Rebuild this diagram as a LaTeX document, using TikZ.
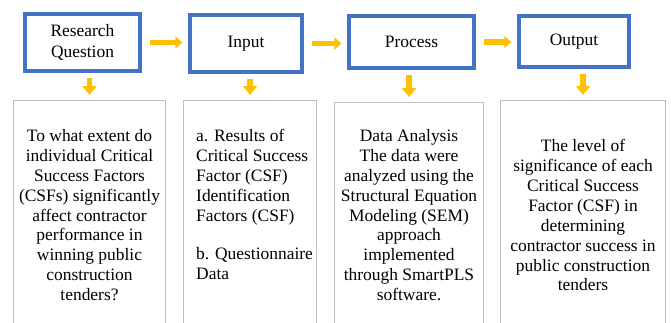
\documentclass[tikz,border=0pt]{standalone}
\usepackage{fontspec}
\setmainfont{Liberation Serif}
\usetikzlibrary{arrows.meta,positioning}
\definecolor{stageblue}{HTML}{4472C4}
\definecolor{flowyellow}{HTML}{FFC000}
\definecolor{panelgray}{HTML}{BFBFBF}

\begin{document}
\begin{tikzpicture}[x=1bp, y=-1bp,
    stage/.style={draw=stageblue, line width=3.2bp, align=center, inner sep=0pt,
      font=\fontsize{17.5}{21}\selectfont},
    panel/.style={draw=panelgray, line width=1bp, anchor=north west, inner sep=0pt},
    body/.style={inner sep=0pt, font=\fontsize{17.5}{20}\selectfont},
    flow/.style={draw=flowyellow, line width=5.5bp, -{Triangle[length=7bp, width=12bp]},
      shorten <=8bp, shorten >=6bp},
    drop/.style={draw=flowyellow, line width=5.5bp, -{Triangle[length=9bp, width=14bp]},
      shorten <=5bp, shorten >=5bp}
  ]
    \useasboundingbox (0,0) rectangle (671,322);
    \clip (0,0) rectangle (671,322);

    % stages along the top
    \node[stage, minimum width=115bp, minimum height=57bp] (rq) at (82.5,42.5) {Research\\Question};
    \node[stage, minimum width=112bp, minimum height=57bp] (inp) at (246,43.5) {Input};
    \node[stage, minimum width=125bp, minimum height=52bp] (proc) at (411.5,42) {Process};
    \node[stage, minimum width=110bp, minimum height=51bp] (outp) at (574,41.5) {Output};

    \draw[flow] (rq.east) -- (rq.east -| inp.west);
    \draw[flow] (inp.east) -- (inp.east -| proc.west);
    \draw[flow] (proc.east) -- (proc.east -| outp.west);

    % open panels below, running off the page
    \node[panel, minimum width=152bp, minimum height=250bp] (rqpanel) at (13,100) {};
    \node[panel, minimum width=133bp, minimum height=250bp] (inppanel) at (183,100) {};
    \node[panel, minimum width=149bp, minimum height=250bp] (procpanel) at (334,102) {};
    \node[panel, minimum width=165bp, minimum height=250bp] (outppanel) at (500,100) {};

    \draw[drop] (rqpanel.north |- rq.south) -- (rqpanel.north);
    \draw[drop] (inppanel.north |- inp.south) -- (inppanel.north);
    \draw[drop] (procpanel.north |- proc.south) -- (procpanel.north);
    \draw[drop] (outppanel.north |- outp.south) -- (outppanel.north);

    \node[body, align=center, anchor=north, yshift=-29bp] (rqtext) at (rqpanel.north)
      {To what extent do\\individual Critical\\Success Factors\\(CSFs) significantly\\affect contractor\\performance in\\winning public\\construction\\tenders?};
    \node[body, align=left, anchor=north west, xshift=13bp, yshift=-29bp] (inptext) at (inppanel.north west)
      {a. Results of\\Critical Success\\Factor (CSF)\\Identification\\Factors (CSF)\\[18bp]b. Questionnaire\\Data};
    \node[body, align=center, anchor=north, yshift=-27bp] (proctext) at (procpanel.north)
      {Data Analysis\\The data were\\analyzed using the\\Structural Equation\\Modeling (SEM)\\approach\\implemented\\through SmartPLS\\software.};
    \node[body, align=center, anchor=north, yshift=-39bp] (outptext) at (outppanel.north)
      {The level of\\significance of each\\Critical Success\\Factor (CSF) in\\determining\\contractor success in\\public construction\\tenders};
  \end{tikzpicture}
\end{document}
